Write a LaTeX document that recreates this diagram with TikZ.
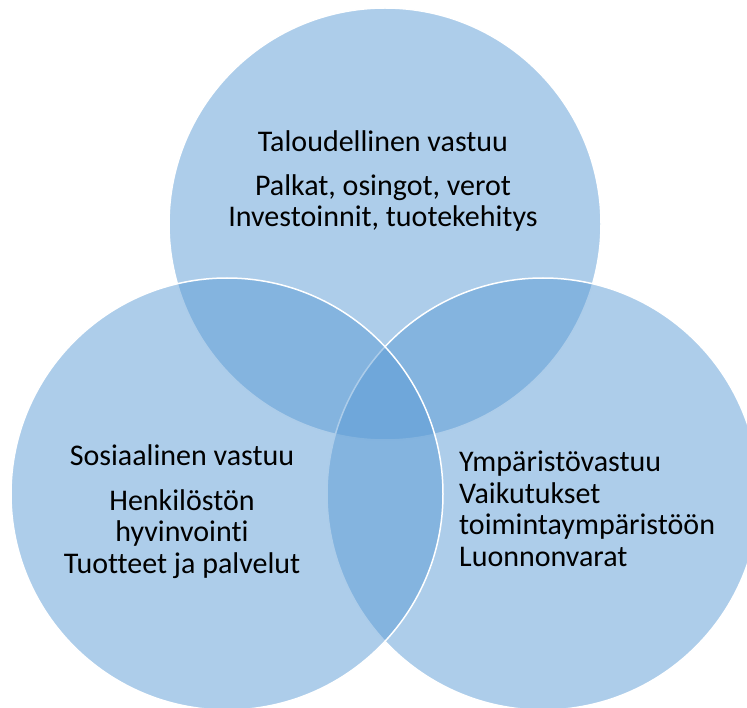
\documentclass[tikz,border=0pt]{standalone}
\usepackage{fontspec}
\setmainfont{Carlito}[Ligatures=CommonOff]
\definecolor{vennblue}{HTML}{5B9BD5}
\begin{document}
\begin{tikzpicture}[x=1pt,y=-1pt,
  venn/.style={circle, fill=vennblue, fill opacity=0.5, draw=white,
    draw opacity=1, line width=1.5pt, minimum size=432pt, inner sep=0pt},
  venntext/.style={font=\fontsize{30}{31.5}\selectfont, inner sep=0pt,
    text=black}]
\useasboundingbox (0,0) rectangle (747,708);
\clip (0,0) rectangle (747,708);
% three overlapping circles: top, right, left (drawn in this order)
\node[venn] (talous) at (385,224) {};
\node[venn] (ymparisto) at (543,494) {};
\node[venn] (sosiaali) at (227,494) {};
% circle labels (base anchor sits on the last line)
\node[venntext, align=center, anchor=base] (taloustxt) at (383,227)
  {Taloudellinen vastuu\\[12.5pt]Palkat, osingot, verot\\Investoinnit, tuotekehitys};
\node[venntext, align=center, anchor=base] (sosiaalitxt) at (182,573)
  {Sosiaalinen vastuu\\[13.5pt]Henkilöstön\\hyvinvointi\\Tuotteet ja palvelut};
\node[venntext, align=left, anchor=base west] (ymparistotxt) at (459,566)
  {Ympäristövastuu\\Vaikutukset\\toimintaympäristöön\\Luonnonvarat};
\end{tikzpicture}
\end{document}
